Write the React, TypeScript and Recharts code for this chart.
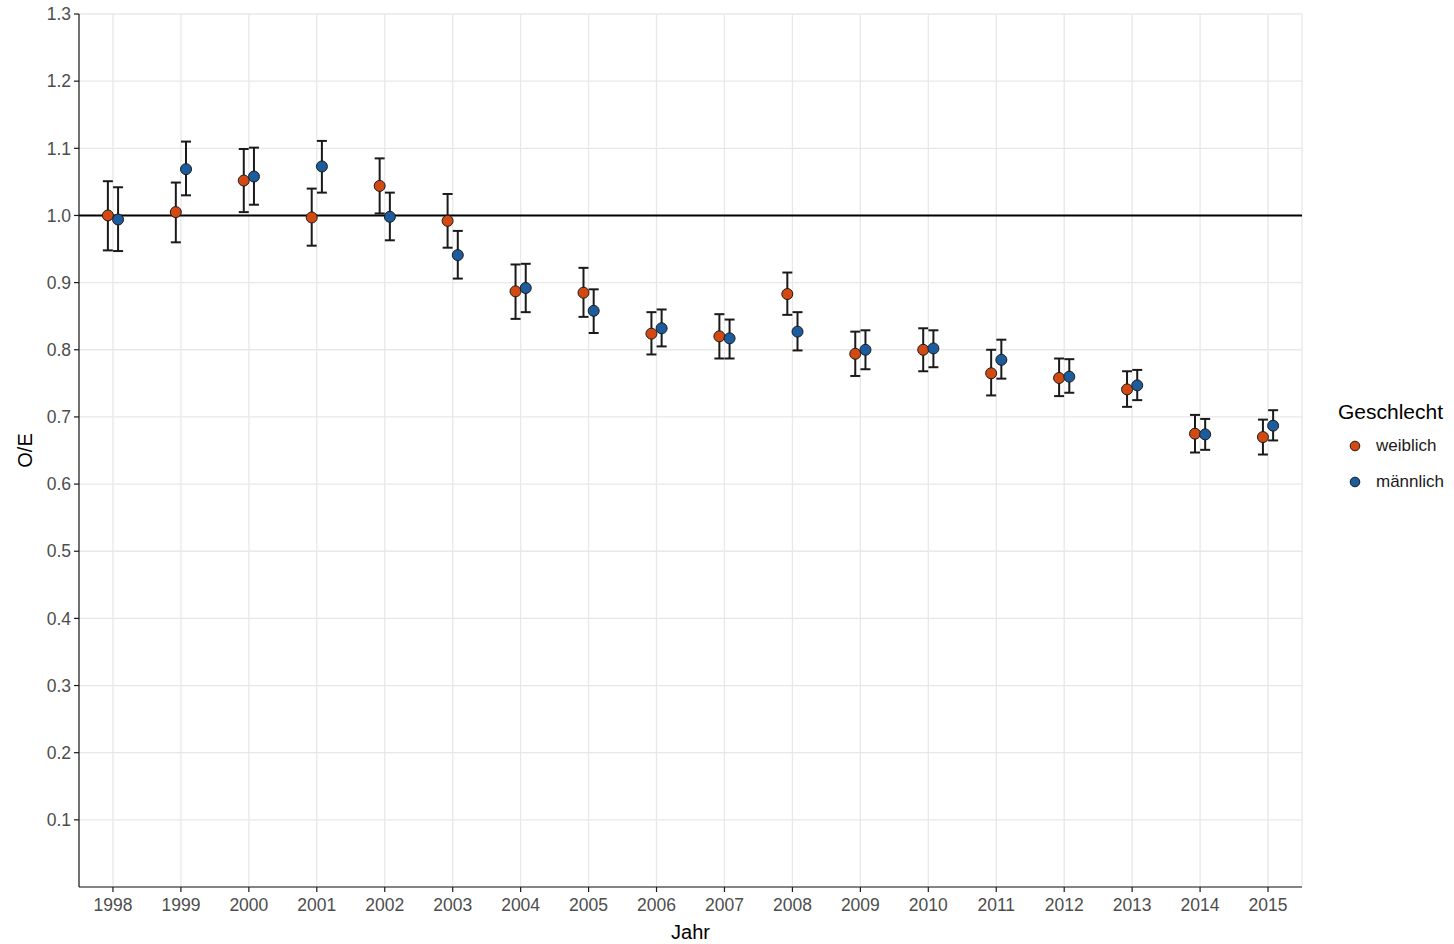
import React from "react";
import {
  ScatterChart,
  Scatter,
  XAxis,
  YAxis,
  CartesianGrid,
  ErrorBar,
  ReferenceLine,
} from "recharts";

const years = [
  1998, 1999, 2000, 2001, 2002, 2003, 2004, 2005, 2006, 2007, 2008, 2009,
  2010, 2011, 2012, 2013, 2014, 2015,
];

const weiblich = [
  1.0, 1.005, 1.052, 0.997, 1.044, 0.992, 0.887, 0.885, 0.824, 0.82, 0.883,
  0.794, 0.8, 0.765, 0.758, 0.741, 0.675, 0.67,
];
const weiblichLo = [
  0.948, 0.96, 1.005, 0.955, 1.003, 0.952, 0.846, 0.849, 0.793, 0.787, 0.852,
  0.761, 0.768, 0.732, 0.731, 0.715, 0.647, 0.644,
];
const weiblichHi = [
  1.051, 1.049, 1.099, 1.04, 1.085, 1.032, 0.927, 0.922, 0.856, 0.853, 0.915,
  0.827, 0.832, 0.8, 0.787, 0.768, 0.703, 0.696,
];

const maennlich = [
  0.994, 1.069, 1.058, 1.073, 0.998, 0.941, 0.892, 0.858, 0.832, 0.817, 0.827,
  0.8, 0.802, 0.785, 0.76, 0.747, 0.674, 0.687,
];
const maennlichLo = [
  0.947, 1.03, 1.016, 1.034, 0.963, 0.906, 0.856, 0.825, 0.805, 0.787, 0.799,
  0.771, 0.774, 0.757, 0.736, 0.725, 0.651, 0.665,
];
const maennlichHi = [
  1.042, 1.11, 1.101, 1.111, 1.034, 0.977, 0.928, 0.89, 0.86, 0.845, 0.856,
  0.829, 0.829, 0.815, 0.786, 0.77, 0.697, 0.71,
];

const yTicks = [0.1, 0.2, 0.3, 0.4, 0.5, 0.6, 0.7, 0.8, 0.9, 1.0, 1.1, 1.2, 1.3];

const ORANGE = "#d24a12";
const BLUE = "#1d5c9c";
const DODGE = 0.075;

const build = (vals: number[], lo: number[], hi: number[], shift: number) =>
  years.map((y, i) => ({
    jahr: y + shift,
    oe: vals[i],
    err: [vals[i] - lo[i], hi[i] - vals[i]],
  }));

const weiblichData = build(weiblich, weiblichLo, weiblichHi, -DODGE);
const maennlichData = build(maennlich, maennlichLo, maennlichHi, DODGE);

const dot = (fill: string) => (props: any) => (
  <circle
    cx={props.cx}
    cy={props.cy}
    r={5.5}
    fill={fill}
    stroke="#1a1a1a"
    strokeWidth={1}
  />
);

const tickStyle = {
  fontSize: 17.5,
  fill: "#4d4d4d",
  fontFamily: "Liberation Sans, Arial, sans-serif",
};

export default function App() {
  return (
    <div
      style={{
        position: "absolute",
        left: 0,
        top: 0,
        width: 1454,
        height: 944,
        background: "#fff",
        fontFamily: "Liberation Sans, Arial, sans-serif",
      }}
    >
      <ScatterChart
        width={1454}
        height={944}
        margin={{ top: 14, right: 152, bottom: 0, left: 0 }}
      >
        <CartesianGrid stroke="#e8e8e8" strokeWidth={1.3} />
        <XAxis
          type="number"
          dataKey="jahr"
          domain={[1997.5, 2015.5]}
          ticks={years}
          allowDataOverflow
          height={57}
          tick={tickStyle}
          tickSize={5}
          tickMargin={7}
          stroke="#1a1a1a"
          strokeWidth={1.2}
          label={{
            value: "Jahr",
            position: "insideBottom",
            offset: 5,
            style: { fontSize: 20, fill: "#000" },
          }}
        />
        <YAxis
          type="number"
          dataKey="oe"
          domain={[0, 1.3]}
          ticks={yTicks}
          allowDataOverflow
          width={79}
          tick={tickStyle}
          tickFormatter={(v: number) => v.toFixed(1)}
          tickSize={5}
          tickMargin={3}
          stroke="#1a1a1a"
          strokeWidth={1.2}
          label={{
            value: "O/E",
            angle: -90,
            position: "insideLeft",
            offset: 25,
            style: { fontSize: 20, fill: "#000", textAnchor: "middle" },
          }}
        />
        <ReferenceLine y={1} stroke="#000" strokeWidth={2} />
        <Scatter
          name="weiblich"
          data={weiblichData}
          fill={ORANGE}
          shape={dot(ORANGE)}
          isAnimationActive={false}
        >
          <ErrorBar
            dataKey="err"
            direction="y"
            width={5}
            stroke="#1a1a1a"
            strokeWidth={2}
            isAnimationActive={false}
          />
        </Scatter>
        <Scatter
          name="männlich"
          data={maennlichData}
          fill={BLUE}
          shape={dot(BLUE)}
          isAnimationActive={false}
        >
          <ErrorBar
            dataKey="err"
            direction="y"
            width={5}
            stroke="#1a1a1a"
            strokeWidth={2}
            isAnimationActive={false}
          />
        </Scatter>
      </ScatterChart>
      <div style={{ position: "absolute", left: 1338, top: 400 }}>
        <div style={{ fontSize: 21, color: "#000", whiteSpace: "nowrap" }}>
          Geschlecht
        </div>
        {[
          { name: "weiblich", color: ORANGE },
          { name: "männlich", color: BLUE },
        ].map((it, i) => (
          <div
            key={it.name}
            style={{
              position: "absolute",
              left: 11,
              top: 36 + i * 36,
              display: "flex",
              alignItems: "center",
              whiteSpace: "nowrap",
            }}
          >
            <svg width={12} height={12}>
              <circle cx={6} cy={6} r={4.8} fill={it.color} stroke="#1a1a1a" strokeWidth={1} />
            </svg>
            <span style={{ marginLeft: 15, fontSize: 17, color: "#1a1a1a" }}>
              {it.name}
            </span>
          </div>
        ))}
      </div>
    </div>
  );
}
